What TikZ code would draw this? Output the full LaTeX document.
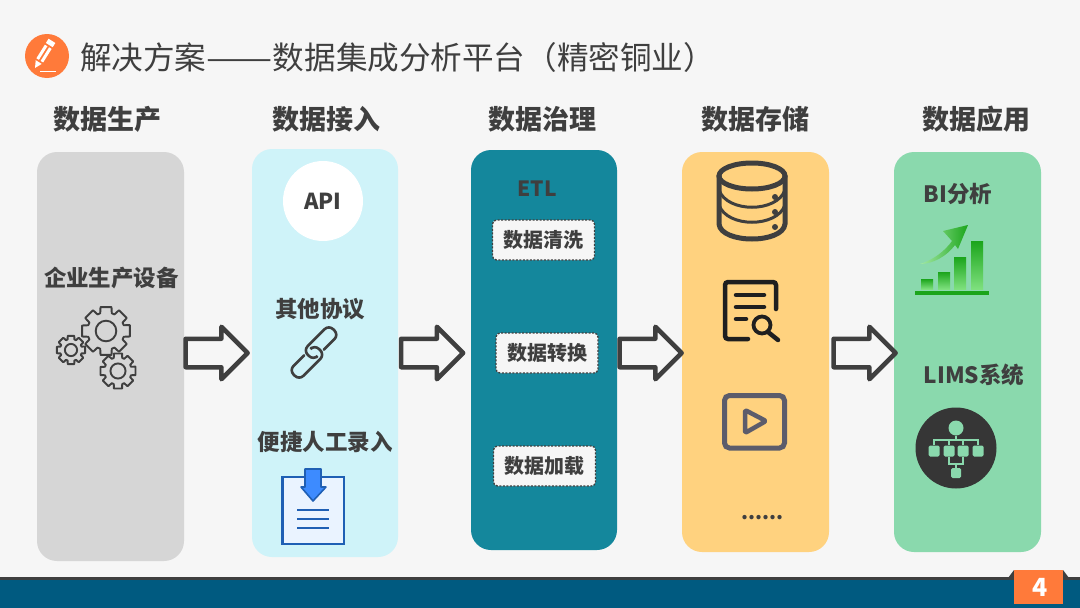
\documentclass[tikz,border=0pt]{standalone}
\usepackage{fontspec}
\setmainfont{Noto Sans CJK SC}
\usetikzlibrary{shapes.arrows,shapes.geometric}
\definecolor{bgc}{HTML}{F6F6F6}
\definecolor{inkc}{HTML}{3F3F3F}
\definecolor{orangec}{HTML}{FF7A3A}
\definecolor{grayp}{HTML}{D6D6D6}
\definecolor{bluep}{HTML}{CFF3F9}
\definecolor{tealp}{HTML}{14879C}
\definecolor{yellowp}{HTML}{FFD27F}
\definecolor{greenp}{HTML}{8AD9AD}
\definecolor{footc}{HTML}{005A80}
\definecolor{docb}{HTML}{1F5FB4}
\definecolor{docf}{HTML}{EAF3FF}
\definecolor{arrb}{HTML}{3D8BFF}
\definecolor{barg}{HTML}{1BA51B}
\definecolor{barl}{HTML}{7EE07E}
\definecolor{vidc}{HTML}{5C5C6B}
\definecolor{srch}{HTML}{1F1F1F}
\tikzset{
  panel/.style={rounded corners=20pt},
  heading/.style={font=\bfseries\fontsize{27}{30}\selectfont,text=inkc,inner sep=0pt},
  label/.style={font=\bfseries\fontsize{22.5}{26}\selectfont,text=inkc,inner sep=0pt},
  stepbox/.style={draw=inkc,dash pattern=on 2pt off 1.5pt,line width=1.3pt,fill=bgc,rounded corners=4pt,
    minimum width=102pt,minimum height=40pt,inner sep=0pt,
    font=\bfseries\fontsize{20}{24}\selectfont,text=inkc},
  blockarrow/.style={single arrow,draw=inkc,fill=bgc,line width=4.5pt,line join=round,
    minimum height=62pt,minimum width=50pt,inner ysep=12pt,inner xsep=0pt,outer sep=0pt,
    single arrow head extend=12pt,single arrow tip angle=90},
  gearicon/.pic={
    \draw[inkc,line width=1.9pt,line join=round]
      (-14:1) \foreach \a in {0,45,...,315}{
        -- (\a-13:1) -- (\a+13:1) -- (\a+18:.76) -- (\a+27:.76)
      } -- cycle;
    \draw[inkc,line width=1.9pt] (0,0) circle[radius=.42];
  },
  barbar/.style={top color=barg,bottom color=barl,draw=none},
}
\begin{document}
\begin{tikzpicture}[x=1pt,y=-1pt]
\useasboundingbox (0,0) rectangle (1080,608);
\fill[bgc] (0,0) rectangle (1080,608);
% footer
\fill[footc] (0,578) rectangle (1080,608);
\fill[inkc] (0,576.5) rectangle (1080,580);
\fill[inkc] (1008,578) -- (1014,570) -- (1063,570) -- (1069,578) -- cycle;
\node[fill=orangec,minimum width=49pt,minimum height=34pt,inner sep=0pt,text=white,
  font=\bfseries\fontsize{25}{28}\selectfont] (page) at (1038.5,587) {\kern3pt 4};
% title
\node[circle,fill=orangec,minimum size=44pt,inner sep=0pt] (logo) at (47,56) {};
\begin{scope}[shift={(35,68)},rotate=58]
  \fill[white] (0,0) -- (7,3.5) -- (7,-3.5) -- cycle;
  \fill[white] (9,-4) rectangle (25,-1); \fill[white] (9,1) rectangle (25,4);
  \fill[white] (27,-4) rectangle (32,4);
\end{scope}
\draw[white,line width=1pt] (40,71.5) -- (56,71.5);
\node[anchor=west,inner sep=0pt,text=inkc,font=\fontsize{31.6}{36}\selectfont] (title) at (80,57)
  {解决方案\scalebox{1.25}[1]{——}数据集成分析平台（精密铜业）};
% headings
\node[heading] (h1) at (107,119) {数据生产};
\node[heading] (h2) at (326.5,119) {数据接入};
\node[heading] (h3) at (542.5,119) {数据治理};
\node[heading] (h4) at (755,119) {数据存储};
\node[heading] (h5) at (976,119) {数据应用};
% panels
\fill[grayp,panel] (37,152) rectangle (184,561);
\fill[bluep,panel] (252,149) rectangle (398,557);
\fill[tealp,panel] (471,150) rectangle (617,550);
\fill[yellowp,panel] (682,152) rectangle (829,552);
\fill[greenp,panel] (894,152) rectangle (1041,552);
% block arrows
\node[blockarrow] (a1) at (209.5,353) {};
\node[blockarrow] (a2) at (425,353) {};
\node[blockarrow] (a3) at (643.5,353) {};
\node[blockarrow] (a4) at (857.5,353) {};
% panel 1
\node[label] (t1) at (111.5,278) {企业生产设备};
\pic[scale=24.5] at (106,331) {gearicon};
\pic[scale=18] at (118,371) {gearicon};
\pic[scale=14.5] at (71,350) {gearicon};
% panel 2
\node[circle,fill=white,minimum size=80pt,inner sep=0pt,text=inkc,
  font=\bfseries\fontsize{22}{26}\selectfont] (api) at (323,201) {API};
\node[label] (t2) at (320,309) {其他协议};
\begin{scope}[shift={(314,352.5)},rotate=45,inkc,line width=2.6pt,line cap=round]
  \draw[rounded corners=6pt] (9,5) -- (30,5) -- (30,-9) -- (-6,-9) -- (-6,5) -- (-2,5);
  \draw[rounded corners=6pt] (-9,-5) -- (-30,-5) -- (-30,9) -- (6,9) -- (6,-5) -- (2,-5);
\end{scope}
\node[label] (t3) at (325,442) {便捷人工录入};
\draw[docb,fill=docf,line width=2.5pt] (282.5,477) rectangle (344,544);
\draw[docb,fill=arrb,line width=1.6pt,line join=round]
  (305,469) -- (321,469) -- (321,487) -- (326,487) -- (313,501) -- (301,487) -- (305,487) -- cycle;
\foreach \yy in {510,519,528} \draw[docb,line width=2.6pt] (297,\yy) -- (329,\yy);
% panel 3
\node[text=inkc,inner sep=0pt,font=\bfseries\fontsize{21}{24}\selectfont] (etl) at (537,189) {ETL};
\node[stepbox] (s1) at (543.5,240) {数据清洗};
\node[stepbox] (s2) at (547,353) {数据转换};
\node[stepbox] (s3) at (544.5,466) {数据加载};
% panel 4: database
\draw[inkc,line width=5pt] (752,176) ellipse[x radius=33,y radius=13];
\draw[inkc,line width=5pt,line cap=round] (719,176) -- (719,224) .. controls (721,244) and (783,244) .. (785,224) -- (785,176);
\draw[inkc,line width=3pt] (719,190) .. controls (727,213) and (777,213) .. (785,190);
\draw[inkc,line width=3pt] (719,205) .. controls (727,228) and (777,228) .. (785,205);
\foreach \yy in {197,212,227} \fill[inkc] (775,\yy) circle[radius=3];
% doc search
\draw[srch,line width=4.5pt,line cap=round,rounded corners=3pt] (748,339) -- (725,339) -- (725,282) -- (776,282) -- (776,309);
\draw[srch,line width=4.5pt,line cap=round] (736,295) -- (764,295) (736,307) -- (764,307) (736,319) -- (746,319);
\draw[srch,line width=3.8pt] (762,325) circle[radius=8.5];
\draw[srch,line width=4.5pt,line cap=round] (768,332) -- (778,340);
% video
\draw[vidc,line width=5pt,rounded corners=5pt] (724.5,395.5) rectangle (784.5,448);
\draw[vidc,line width=4.5pt,line join=round,rounded corners=2pt] (745,410) -- (766,421) -- (745,433) -- cycle;
\node[inner sep=0pt,text=inkc,font=\bfseries\fontsize{20}{22}\selectfont] (dots) at (762.5,518) {......};
% panel 5
\node[label] (bi) at (958,194) {BI分析};
\shade[barbar] (921,279) rectangle (933,289);
\shade[barbar] (938,272) rectangle (950,289);
\shade[barbar] (954,257) rectangle (966,289);
\shade[barbar] (971,241) rectangle (983,289);
\fill[barg] (915,290.5) rectangle (989,295);
\shade[left color=barl!70!white,right color=barg,draw=none]
  (920,264) .. controls (933,260) and (945,251) .. (952,241) -- (943,231) -- (968,225) -- (958,249) -- (955,245)
  .. controls (947,256) and (933,264) .. (920,264) -- cycle;
\node[label] (lims) at (974,375) {LIMS系统};
\node[circle,fill=inkc!85!black,minimum size=81pt,inner sep=0pt] (limsc) at (956,448) {};
\node[circle,fill=greenp,minimum size=15pt,inner sep=0pt] (top) at (956,428) {};
\foreach \n/\xx in {b1/934,b2/949,b3/963,b4/978}
  \node[fill=greenp,rounded corners=1.5pt,minimum size=11pt,inner sep=0pt] (\n) at (\xx,451) {};
\node[fill=greenp,rounded corners=1.5pt,minimum size=10pt,inner sep=0pt] (b5) at (956,473) {};
\draw[greenp,line width=1.2pt] (top) -- (956,440) (b1.north) |- (b4.north|-956,440) -- (b4.north)
  (b2.north) -- (b2.north|-956,440) (b3.north) -- (b3.north|-956,440)
  (b2.south) |- (956,464) (b3.south) |- (956,464) (956,464) -- (b5.north);
\end{tikzpicture}
\end{document}
